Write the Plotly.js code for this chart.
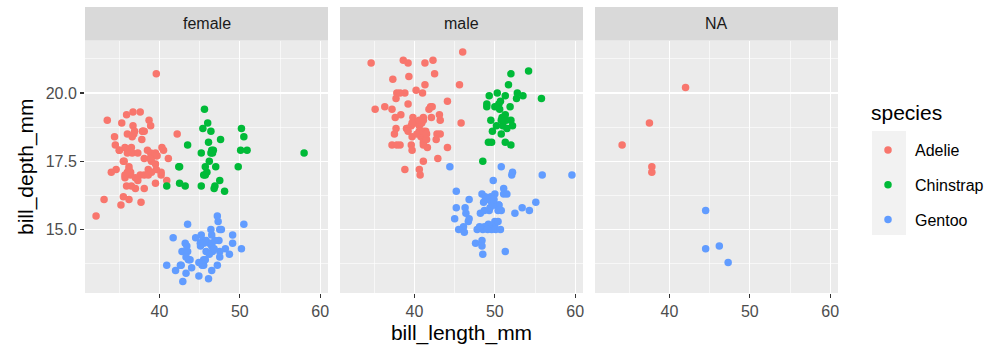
<!DOCTYPE html>
<html>
<head>
<meta charset="utf-8">
<script src="https://cdn.plot.ly/plotly-3.0.1.min.js"></script>
<style>html,body{margin:0;padding:0;background:#fff;}#chart{width:995px;height:348px;}</style>
</head>
<body>
<div id="chart"></div>
<script>
// ---- data (Palmer penguins: bill length / depth by species, sex f/m/n = female/male/NA) ----
const facetLabels = ['female', 'male', 'NA'];
const facetCodes = ['f', 'm', 'n'];
const speciesNames = ['Adelie', 'Chinstrap', 'Gentoo'];
const speciesColors = ['#F8766D', '#00BA38', '#619CFF'];

const adelieLength = [
  39.1,39.5,40.3,36.7,39.3,38.9,39.2,34.1,42.0,37.8,
  37.8,41.1,38.6,34.6,36.6,38.7,42.5,34.4,46.0,37.8,
  37.7,35.9,38.2,38.8,35.3,40.6,40.5,37.9,40.5,39.5,
  37.2,39.5,40.9,36.4,39.2,38.8,42.2,37.6,39.8,36.5,
  40.8,36.0,44.1,37.0,39.6,41.1,37.5,36.0,42.3,
  39.6,40.1,35.0,42.0,34.5,41.4,39.0,40.6,36.5,37.6,
  35.7,41.3,37.6,41.1,36.4,41.6,35.5,41.1,35.9,41.8,
  33.5,39.7,39.6,45.8,35.5,42.8,40.9,37.2,36.2,42.1,
  34.6,42.9,36.7,35.1,37.3,41.3,36.3,36.9,38.3,38.9,
  35.7,41.1,34.0,39.6,36.2,40.8,38.1,40.3,33.1,43.2,
  35.0,41.0,37.7,37.8,37.9,39.7,38.6,38.2,38.1,43.2,
  38.1,45.6,39.7,42.2,39.6,42.7,38.6,37.3,35.7,41.1,
  36.2,37.7,40.2,41.4,35.2,40.6,38.8,41.5,39.0,44.1,
  38.5,43.1,36.8,37.5,38.1,41.1,35.6,40.2,37.0,39.7,
  40.2,40.6,32.1,40.7,37.3,39.0,39.2,36.6,36.0,37.8,
  36.0,41.5
];
const adelieDepth = [
  18.7,17.4,18.0,19.3,20.6,17.8,19.6,18.1,20.2,17.1,
  17.3,17.6,21.2,21.1,17.8,19.0,20.7,18.4,21.5,18.3,
  18.7,19.2,18.1,17.2,18.9,18.6,17.9,18.6,18.9,16.7,
  18.1,17.8,18.9,17.0,21.1,20.0,18.5,19.3,19.1,18.0,
  18.4,18.5,19.7,16.9,18.8,19.0,18.9,17.9,21.2,
  17.7,18.9,17.9,19.5,18.1,18.6,17.5,18.8,16.6,19.1,
  16.9,21.1,17.0,18.2,17.1,18.0,16.2,19.1,16.6,19.4,
  19.0,18.4,17.2,18.9,17.5,18.5,16.8,19.4,16.1,19.1,
  17.2,17.6,18.8,19.4,17.8,20.3,19.5,18.6,19.2,18.8,
  18.0,18.1,17.1,18.1,17.3,18.9,18.6,18.5,16.1,18.5,
  17.9,20.0,16.0,20.0,18.6,18.9,17.2,20.0,17.0,19.0,
  16.5,20.3,17.7,19.5,20.7,18.3,17.0,20.5,17.0,18.6,
  17.2,19.8,17.0,18.5,15.9,19.0,17.6,18.3,17.1,18.0,
  17.9,19.2,18.5,18.5,17.6,17.5,17.5,20.1,16.5,17.9,
  17.1,17.2,15.5,17.0,16.8,18.7,18.6,18.4,17.8,18.1,
  17.1,18.5
];
const adelieSex = [
  'm','f','f','f','m','f','m','n','n','n',
  'n','f','m','m','f','f','m','f','m','f',
  'm','f','m','m','f','m','f','f','m','f',
  'm','f','m','f','m','m','f','f','m','f',
  'm','f','m','f','m','m','n','f','m',
  'f','m','f','m','f','m','f','m','f','m',
  'f','m','f','m','f','m','f','m','f','m',
  'f','m','f','m','f','m','f','m','f','m',
  'f','m','f','m','f','m','m','f','m','f',
  'f','m','f','m','f','m','f','m','f','m',
  'f','m','f','m','f','m','f','m','f','m',
  'f','m','f','m','f','m','f','m','f','m',
  'f','m','f','m','f','m','f','m','f','m',
  'f','m','f','m','f','m','f','m','f','m',
  'f','m','f','m','f','m','m','f','f','m',
  'f','m'
];

const chinstrapLength = [
  46.5,50.0,51.3,45.4,52.7,45.2,46.1,51.3,46.0,51.3,
  46.6,51.7,47.0,52.0,45.9,50.5,50.3,58.0,46.4,49.2,
  42.4,48.5,43.2,50.6,46.7,52.0,50.5,49.5,46.4,52.8,
  40.9,54.2,42.5,51.0,49.7,47.5,47.6,52.0,46.9,53.5,
  49.0,46.2,50.9,45.5,50.9,50.8,50.1,49.0,51.5,49.8,
  48.1,51.4,45.7,50.7,42.5,52.2,45.2,49.3,50.2,45.6,
  51.9,46.8,45.7,55.8,43.5,49.6,50.8,50.2
];
const chinstrapDepth = [
  17.9,19.5,19.2,18.7,19.8,17.8,18.2,18.2,18.9,19.9,
  17.8,20.3,17.3,18.1,17.1,19.6,20.0,17.8,18.6,18.2,
  17.3,17.5,16.6,19.4,17.9,19.0,18.4,19.0,17.8,20.0,
  16.6,20.8,16.7,18.8,18.6,16.8,18.3,20.7,16.6,19.9,
  19.5,17.5,19.1,17.0,17.9,18.5,17.9,19.6,18.7,17.3,
  16.4,19.0,17.3,19.7,17.3,18.8,16.6,19.9,18.8,19.4,
  19.5,16.5,17.0,19.8,18.1,18.2,19.0,18.7
];
const chinstrapSex = [
  'f','m','m','f','m','f','f','m','f','m',
  'f','m','f','m','f','m','m','f','f','m',
  'f','m','f','m','f','m','f','m','f','m',
  'f','m','f','m','m','f','f','m','f','m',
  'm','f','m','f','f','m','f','m','m','f',
  'f','m','f','m','f','m','f','m','m','f',
  'm','f','f','m','f','m','m','f'
];

const gentooLength = [
  46.1,50.0,48.7,50.0,47.6,46.5,45.4,46.7,43.3,46.8,
  40.9,49.0,45.5,48.4,45.8,49.3,42.0,49.2,46.2,48.7,
  50.2,45.1,46.5,46.3,42.9,46.1,44.5,47.8,48.2,50.0,
  47.3,42.8,45.1,59.6,49.1,48.4,42.6,44.4,44.0,48.7,
  42.7,49.6,45.3,49.6,50.5,43.6,45.5,50.5,44.9,45.2,
  46.6,48.5,45.1,50.1,46.5,45.0,43.8,45.5,43.2,50.4,
  45.3,46.2,45.7,54.3,45.8,49.8,46.2,49.5,43.5,50.7,
  47.7,46.4,48.2,46.5,46.4,48.6,47.5,51.1,45.2,45.2,
  49.1,52.5,47.4,50.0,44.9,50.8,43.4,51.3,47.5,52.1,
  47.5,52.2,45.5,49.5,44.5,50.8,49.4,46.9,48.4,51.1,
  48.5,55.9,47.2,49.1,47.3,46.8,41.7,53.4,43.3,48.1,
  50.5,49.8,43.5,51.5,46.2,55.1,44.5,48.8,47.2,
  46.8,50.4,45.2,49.9
];
const gentooDepth = [
  13.2,16.3,14.1,15.2,14.5,13.5,14.6,15.3,13.4,15.4,
  13.7,16.1,13.7,14.6,14.6,15.7,13.5,15.2,14.5,15.1,
  14.3,14.5,14.5,15.8,13.1,15.1,14.3,15.0,14.3,15.3,
  15.3,14.2,14.5,17.0,14.8,16.3,13.7,17.3,13.6,15.7,
  13.7,16.0,13.7,15.0,15.9,13.9,13.9,15.9,13.3,15.8,
  14.2,14.1,14.4,15.0,14.4,15.4,13.9,15.0,14.5,15.3,
  13.8,14.9,13.9,15.7,14.2,16.8,14.4,16.2,14.2,15.0,
  15.0,15.6,15.6,14.8,15.0,16.0,14.2,16.3,13.8,16.4,
  14.5,15.6,14.6,15.9,13.8,17.3,14.4,14.2,14.0,17.0,
  15.0,17.1,14.5,16.1,14.7,15.7,15.8,14.6,14.4,16.5,
  15.0,17.0,15.5,15.0,13.8,16.1,14.7,15.8,14.0,15.1,
  15.2,15.9,15.2,16.3,14.1,16.0,15.7,16.2,13.7,
  14.3,15.7,14.8,16.1
];
const gentooSex = [
  'f','m','f','m','m','f','f','m','f','m',
  'f','m','f','m','f','m','f','m','f','m',
  'f','f','f','m','f','m','n','m','f','m',
  'f','f','f','m','f','m','f','m','f','m',
  'f','m','f','m','m','f','f','m','f','m',
  'f','m','f','m','f','m','f','m','f','m',
  'f','m','f','m','f','m','n','m','f','m',
  'f','m','m','f','f','m','f','m','f','m',
  'f','m','f','m','f','m','f','m','f','m',
  'f','m','f','m','f','m','m','f','m','m',
  'm','m','f','m','n','m','f','m','f','m',
  'f','m','f','m','f','m','n','m','f',
  'f','m','f','m'
];

const xTickVals = [40, 50, 60];
const yTickVals = [15, 17.5, 20];

// ---- build traces ----
const speciesData = [
  [adelieLength, adelieDepth, adelieSex],
  [chinstrapLength, chinstrapDepth, chinstrapSex],
  [gentooLength, gentooDepth, gentooSex]
];
const traces = [];
speciesData.forEach(function (d, s) {
  facetCodes.forEach(function (code, i) {
    const xs = [], ys = [];
    for (let k = 0; k < d[0].length; k++) {
      if (d[2][k] === code) { xs.push(d[0][k]); ys.push(d[1][k]); }
    }
    const suffix = i === 0 ? '' : String(i + 1);
    traces.push({
      type: 'scatter', mode: 'markers',
      x: xs, y: ys,
      xaxis: 'x' + suffix, yaxis: 'y' + suffix,
      name: speciesNames[s], legendgroup: speciesNames[s],
      showlegend: i === 0,
      marker: { color: speciesColors[s], size: 7.5, line: { width: 0 } },
      hoverinfo: 'x+y'
    });
  });
});

// ---- layout ----
const W = 995, H = 348;
const panelX = [[85, 328], [340, 583], [595, 838]];
const panelTop = 40.5, panelBottom = 293, stripTop = 7;
const yDom = [1 - panelBottom / H, 1 - panelTop / H];
const FONT = 'Liberation Sans, Arial, Helvetica, sans-serif';

function xAxis(i) {
  const a = {
    domain: [panelX[i][0] / W, panelX[i][1] / W],
    range: [30.725, 60.975],
    anchor: i === 0 ? 'y' : 'y' + (i + 1),
    tickmode: 'array', tickvals: xTickVals,
    ticks: 'outside', ticklen: 4, tickwidth: 1.1, tickcolor: '#333333',
    tickfont: { family: FONT, size: 16, color: '#4D4D4D' },
    showgrid: true, gridcolor: '#FFFFFF', gridwidth: 1.3,
    zeroline: false, showline: false,
    minor: { tickmode: 'array', tickvals: [35, 45, 55], showgrid: true, gridcolor: '#FFFFFF', gridwidth: 0.6, ticks: '' },
    fixedrange: true
  };
  if (i === 1) {
    a.title = { text: 'bill_length_mm', font: { family: FONT, size: 21, color: '#000000' }, standoff: 6 };
  }
  return a;
}
function yAxis(i) {
  const a = {
    domain: yDom,
    range: [12.68, 21.92],
    anchor: i === 0 ? 'x' : 'x' + (i + 1),
    tickmode: 'array', tickvals: yTickVals, tickformat: '.1f',
    ticks: i === 0 ? 'outside' : '', ticklen: 4, tickwidth: 1.1, tickcolor: '#333333',
    showticklabels: i === 0,
    tickfont: { family: FONT, size: 16, color: '#4D4D4D' },
    showgrid: true, gridcolor: '#FFFFFF', gridwidth: 1.3,
    zeroline: false, showline: false,
    minor: { tickmode: 'array', tickvals: [13.75, 16.25, 18.75, 21.25], showgrid: true, gridcolor: '#FFFFFF', gridwidth: 0.6, ticks: '' },
    fixedrange: true
  };
  if (i === 0) {
    a.title = { text: 'bill_depth_mm', font: { family: FONT, size: 21, color: '#000000' }, standoff: 6 };
  } else {
    a.matches = 'y';
  }
  return a;
}

const shapes = [];
const annotations = [];
panelX.forEach(function (p, i) {
  shapes.push({
    type: 'rect', xref: 'paper', yref: 'paper', layer: 'below',
    x0: p[0] / W, x1: p[1] / W, y0: 1 - panelTop / H, y1: 1 - stripTop / H,
    fillcolor: '#D9D9D9', line: { width: 0 }
  });
  annotations.push({
    xref: 'paper', yref: 'paper', showarrow: false,
    x: (p[0] + p[1]) / 2 / W, y: 1 - (panelTop + stripTop) / 2 / H,
    xanchor: 'center', yanchor: 'middle',
    text: facetLabels[i],
    font: { family: FONT, size: 16, color: '#1A1A1A' }
  });
});
// legend title
annotations.push({
  xref: 'paper', yref: 'paper', showarrow: false,
  x: 869 / W, y: 1 - 113 / H, xanchor: 'left', yanchor: 'middle',
  text: 'species',
  font: { family: FONT, size: 21, color: '#000000' }
});
// legend key background
shapes.push({
  type: 'rect', xref: 'paper', yref: 'paper', layer: 'below',
  x0: 872 / W, x1: 906 / W, y0: 1 - 235 / H, y1: 1 - 131 / H,
  fillcolor: '#F2F2F2', line: { width: 0 }
});

const layout = {
  width: W, height: H,
  margin: { l: 0, r: 0, t: 0, b: 0, pad: 0 },
  paper_bgcolor: '#FFFFFF', plot_bgcolor: '#EBEBEB',
  font: { family: FONT, size: 16, color: '#000000' },
  xaxis: xAxis(0), xaxis2: xAxis(1), xaxis3: xAxis(2),
  yaxis: yAxis(0), yaxis2: yAxis(1), yaxis3: yAxis(2),
  shapes: shapes, annotations: annotations,
  showlegend: true,
  legend: {
    x: 861 / W, xanchor: 'left', y: 1 - 133 / H, yanchor: 'top',
    bgcolor: 'rgba(0,0,0,0)', borderwidth: 0,
    font: { family: FONT, size: 16, color: '#000000' },
    itemwidth: 44,
    traceorder: 'grouped', tracegroupgap: 11,
    itemclick: false, itemdoubleclick: false
  },
  hovermode: false
};

Plotly.newPlot('chart', traces, layout, { staticPlot: true, displayModeBar: false });
</script>
</body>
</html>
